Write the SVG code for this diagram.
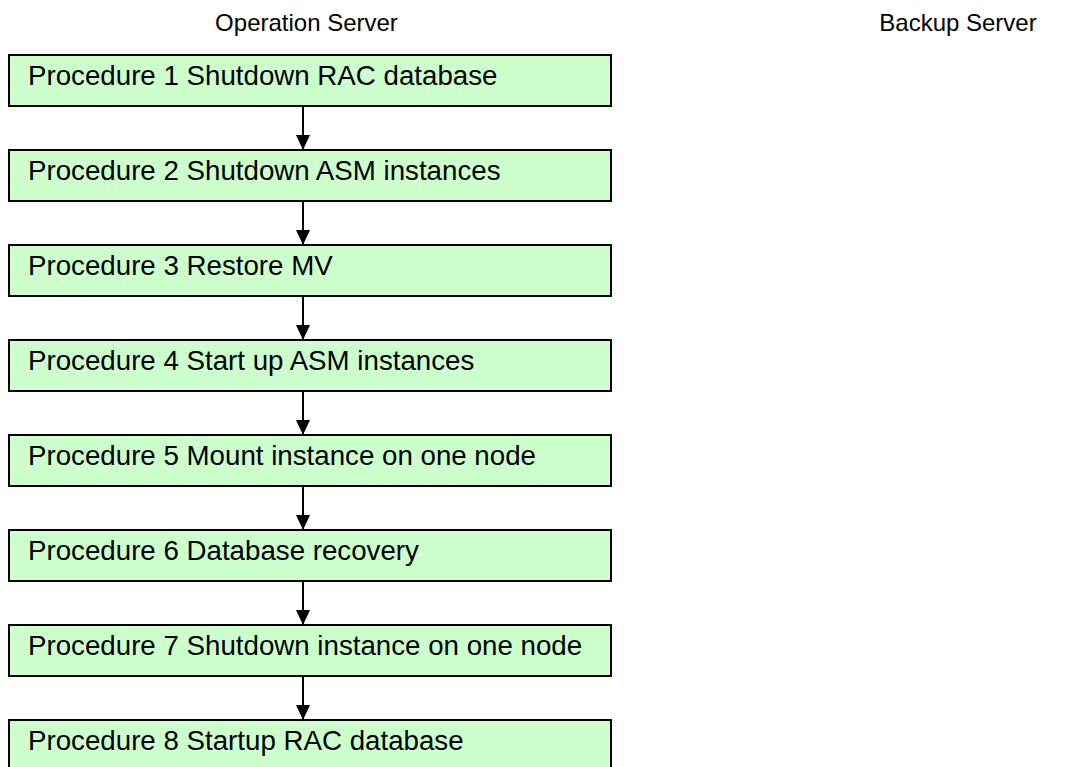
<svg xmlns="http://www.w3.org/2000/svg" width="1065" height="767" viewBox="0 0 1065 767">
<style>
.box{fill:#ccffcc;stroke:#000;stroke-width:2}
.t{font-family:"Liberation Sans",Arial,sans-serif;font-size:27.7px;fill:#000}
.h{font-family:"Liberation Sans",Arial,sans-serif;font-size:24px;fill:#000;text-anchor:middle}
.c{stroke:#000;stroke-width:2;fill:none}
</style>
<defs>
<marker id="ah" markerUnits="userSpaceOnUse" markerWidth="16" markerHeight="16" viewBox="0 0 16 16" refX="15" refY="8" orient="auto">
<path d="M0,1 L15,8 L0,15 Z" fill="#000"/>
</marker>
</defs>
<rect width="1065" height="767" fill="#fff"/>
<g id="headers">
<text class="h" x="306.5" y="31">Operation Server</text>
<text class="h" x="958" y="31">Backup Server</text>
</g>
<g id="connectors">
<line class="c" x1="303" y1="106" x2="303" y2="150" marker-end="url(#ah)"/>
<line class="c" x1="303" y1="201" x2="303" y2="245" marker-end="url(#ah)"/>
<line class="c" x1="303" y1="296" x2="303" y2="340" marker-end="url(#ah)"/>
<line class="c" x1="303" y1="391" x2="303" y2="435" marker-end="url(#ah)"/>
<line class="c" x1="303" y1="486" x2="303" y2="530" marker-end="url(#ah)"/>
<line class="c" x1="303" y1="581" x2="303" y2="625" marker-end="url(#ah)"/>
<line class="c" x1="303" y1="676" x2="303" y2="720" marker-end="url(#ah)"/>
</g>
<g id="p1"><rect class="box" x="9" y="55" width="602" height="51"/><text class="t" x="28" y="85">Procedure 1 Shutdown RAC database</text></g>
<g id="p2"><rect class="box" x="9" y="150" width="602" height="51"/><text class="t" x="28" y="180">Procedure 2 Shutdown ASM instances</text></g>
<g id="p3"><rect class="box" x="9" y="245" width="602" height="51"/><text class="t" x="28" y="275">Procedure 3 Restore MV</text></g>
<g id="p4"><rect class="box" x="9" y="340" width="602" height="51"/><text class="t" x="28" y="370">Procedure 4 Start up ASM instances</text></g>
<g id="p5"><rect class="box" x="9" y="435" width="602" height="51"/><text class="t" x="28" y="465">Procedure 5 Mount instance on one node</text></g>
<g id="p6"><rect class="box" x="9" y="530" width="602" height="51"/><text class="t" x="28" y="560">Procedure 6 Database recovery</text></g>
<g id="p7"><rect class="box" x="9" y="625" width="602" height="51"/><text class="t" x="28" y="655">Procedure 7 Shutdown instance on one node</text></g>
<g id="p8"><rect class="box" x="9" y="720" width="602" height="51"/><text class="t" x="28" y="750">Procedure 8 Startup RAC database</text></g>
</svg>
